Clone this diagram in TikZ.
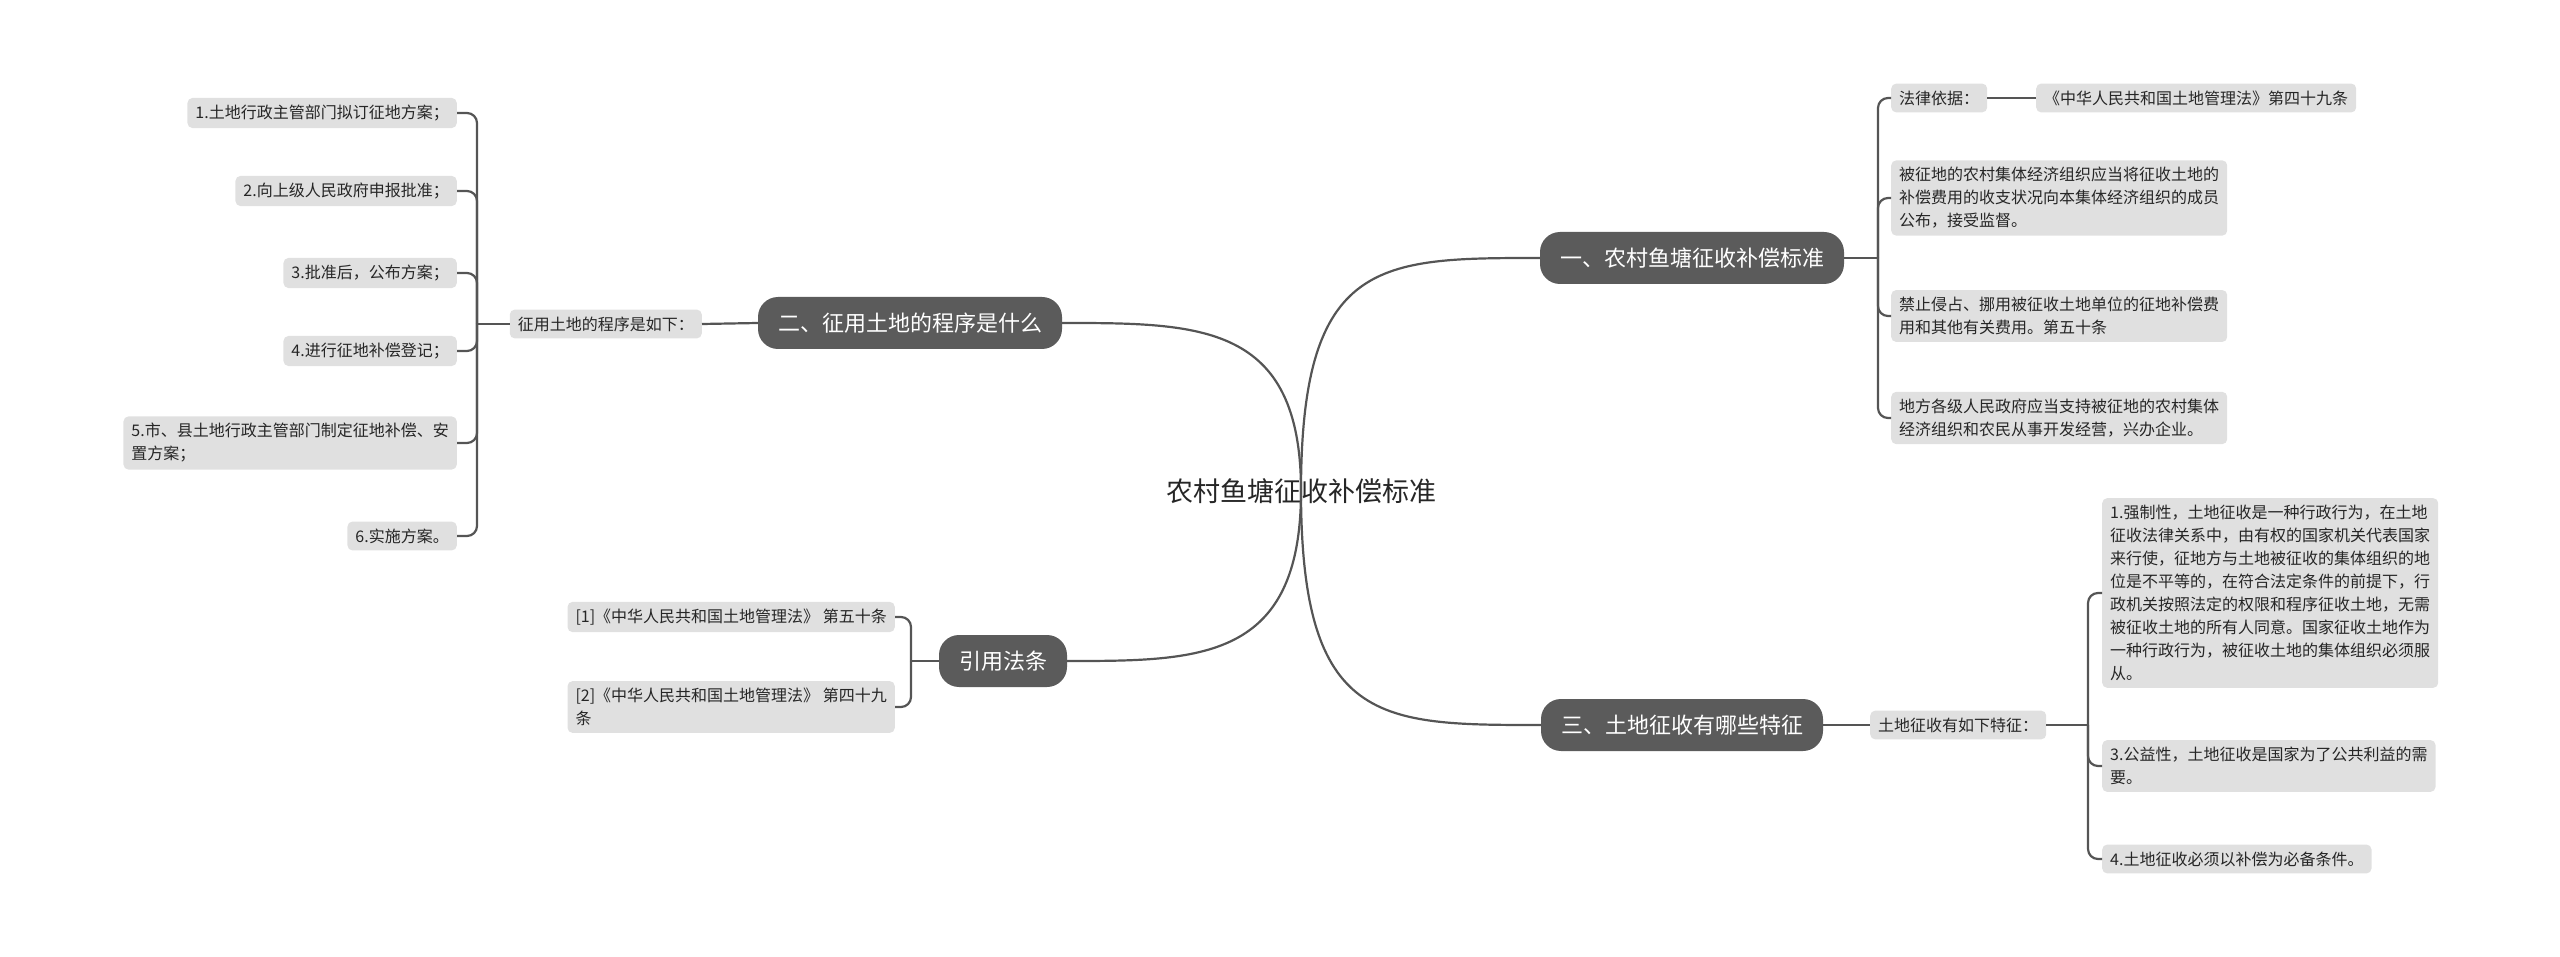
\documentclass[tikz,border=0pt]{standalone}
\usepackage{fontspec}
\setmainfont{Noto Sans CJK SC}
\begin{document}
\begin{tikzpicture}[x=1pt,y=-1pt,
  leaf/.style={fill=leafgray,rounded corners=5pt,inner xsep=8pt,inner ysep=7pt,align=left,font=\fontsize{16}{23}\selectfont,text=black!85},
  mainn/.style={fill=maingray,rounded corners=20pt,text=white,font=\fontsize{22}{26}\selectfont,minimum height=52pt,inner xsep=20pt},
  link/.style={draw=linegray,line width=2.2pt},
  br/.style={draw=linegray,line width=2.2pt,rounded corners=10pt}]
\definecolor{leafgray}{HTML}{E0E0E0}
\definecolor{maingray}{HTML}{5B5B5B}
\definecolor{linegray}{HTML}{555555}
\useasboundingbox (0,0) rectangle (2560,957);
\node[font=\fontsize{27}{32}\selectfont,text=black!85] (c) at (1301,491) {农村鱼塘征收补偿标准};
\coordinate (cc) at (1301,491);
\node[mainn] (m1) at (1692,258) {一、农村鱼塘征收补偿标准};
\node[mainn] (m2) at (910,323) {二、征用土地的程序是什么};
\node[mainn] (m3) at (1003,661) {引用法条};
\node[mainn] (m4) at (1682,725) {三、土地征收有哪些特征};
\draw[link] (cc) .. controls (1301,258) and (1380,258) .. (m1.west);
\draw[link] (cc) .. controls (1301,725) and (1380,725) .. (m4.west);
\draw[link] (cc) .. controls (1301,323) and (1200,323) .. (m2.east);
\draw[link] (cc) .. controls (1301,661) and (1200,661) .. (m3.east);
% right top
\node[leaf,anchor=west] (a1) at (1891,98) {法律依据：};
\node[leaf,anchor=west] (a1b) at (2036,98) {《中华人民共和国土地管理法》第四十九条};
\node[leaf,anchor=west] (a2) at (1891,198) {被征地的农村集体经济组织应当将征收土地的\\补偿费用的收支状况向本集体经济组织的成员\\公布，接受监督。};
\node[leaf,anchor=west] (a3) at (1891,316) {禁止侵占、挪用被征收土地单位的征地补偿费\\用和其他有关费用。第五十条};
\node[leaf,anchor=west] (a4) at (1891,418) {地方各级人民政府应当支持被征地的农村集体\\经济组织和农民从事开发经营，兴办企业。};
\coordinate (b1) at (1878,258);
\draw[link] (m1.east) -- (b1);
\foreach \n in {a1,a2,a3,a4} \draw[br] (b1) -- (b1 |- \n.west) -- (\n.west);
\draw[link] (a1.east) -- (a1b.west);
% right bottom
\node[leaf,anchor=west] (d0) at (1870,725) {土地征收有如下特征：};
\draw[link] (m4.east) -- (d0.west);
\node[leaf,anchor=west] (d1) at (2102,593) {1.强制性，土地征收是一种行政行为，在土地\\征收法律关系中，由有权的国家机关代表国家\\来行使，征地方与土地被征收的集体组织的地\\位是不平等的，在符合法定条件的前提下，行\\政机关按照法定的权限和程序征收土地，无需\\被征收土地的所有人同意。国家征收土地作为\\一种行政行为，被征收土地的集体组织必须服\\从。};
\node[leaf,anchor=west] (d3) at (2102,766) {3.公益性，土地征收是国家为了公共利益的需\\要。};
\node[leaf,anchor=west] (d4) at (2102,859) {4.土地征收必须以补偿为必备条件。};
\coordinate (b4) at (2088,725);
\draw[link] (d0.east) -- (b4);
\foreach \n in {d1,d3,d4} \draw[br] (b4) -- (b4 |- \n.west) -- (\n.west);
% left
\node[leaf,anchor=east] (e0) at (702,324) {征用土地的程序是如下：};
\draw[link] (m2.west) -- (e0.east);
\node[leaf,anchor=east] (e1) at (457,113) {1.土地行政主管部门拟订征地方案；};
\node[leaf,anchor=east] (e2) at (457,191) {2.向上级人民政府申报批准；};
\node[leaf,anchor=east] (e3) at (457,273) {3.批准后，公布方案；};
\node[leaf,anchor=east] (e4) at (457,351) {4.进行征地补偿登记；};
\node[leaf,anchor=east] (e5) at (457,443) {5.市、县土地行政主管部门制定征地补偿、安\\置方案；};
\node[leaf,anchor=east] (e6) at (457,536) {6.实施方案。};
\coordinate (b2) at (477,324);
\draw[link] (e0.west) -- (b2);
\foreach \n in {e1,e2,e3,e4,e5,e6} \draw[br] (b2) -- (b2 |- \n.east) -- (\n.east);
% cited
\node[leaf,anchor=east] (f1) at (895,617) {[1]《中华人民共和国土地管理法》 第五十条};
\node[leaf,anchor=east] (f2) at (895,707) {[2]《中华人民共和国土地管理法》 第四十九\\条};
\coordinate (b3) at (911,661);
\draw[link] (m3.west) -- (b3);
\foreach \n in {f1,f2} \draw[br] (b3) -- (b3 |- \n.east) -- (\n.east);
\end{tikzpicture}
\end{document}
